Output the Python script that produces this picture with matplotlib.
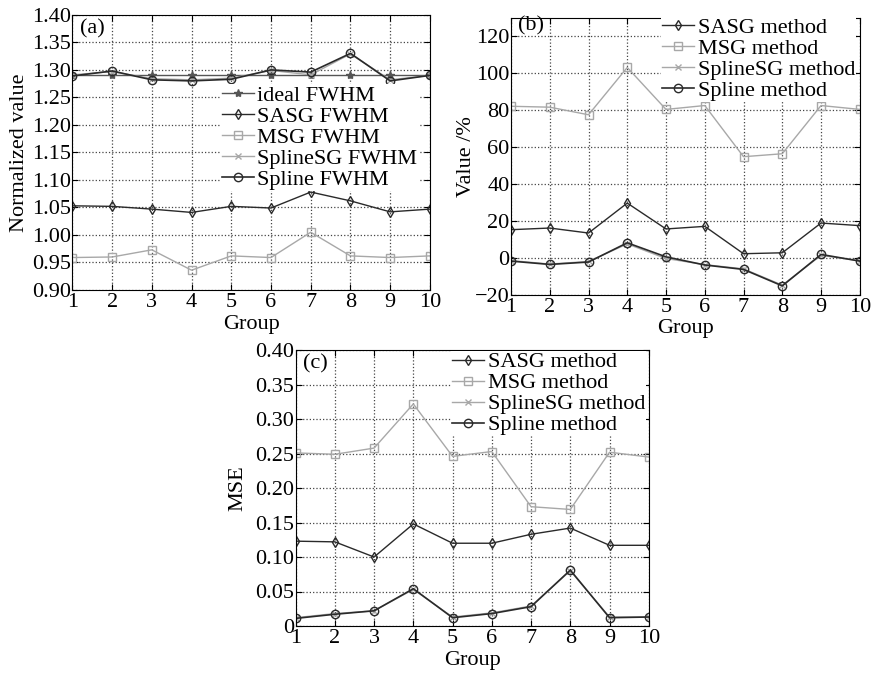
import numpy as np
import matplotlib
matplotlib.use("Agg")
import matplotlib.pyplot as plt

groups = np.arange(1, 11)

# (a) normalized FWHM
ideal_fwhm = [1.29] * 10
sasg_fwhm = [1.053, 1.052, 1.047, 1.041, 1.052, 1.049, 1.078, 1.062, 1.042, 1.047]
msg_fwhm = [0.959, 0.960, 0.973, 0.936, 0.962, 0.959, 1.005, 0.962, 0.959, 0.962]
splinesg_fwhm = [1.291, 1.297, 1.284, 1.282, 1.285, 1.299, 1.291, 1.329, 1.282, 1.290]
spline_fwhm = [1.289, 1.298, 1.282, 1.280, 1.283, 1.300, 1.296, 1.330, 1.280, 1.290]

# (b) value in %
sasg_val = [15.2, 16.1, 13.4, 29.6, 15.6, 17.0, 2.2, 2.7, 18.8, 17.4]
msg_val = [82.0, 81.5, 77.4, 103.0, 80.3, 82.4, 54.7, 56.3, 82.4, 80.3]
splinesg_val = [-1.5, -3.4, -2.0, 7.5, -0.4, -3.7, -6.0, -14.8, 1.3, -1.6]
spline_val = [-1.8, -3.6, -2.3, 8.1, 0.5, -3.9, -6.3, -15.2, 1.8, -1.8]

# (c) MSE
sasg_mse = [0.123, 0.122, 0.100, 0.148, 0.120, 0.120, 0.133, 0.142, 0.117, 0.117]
msg_mse = [0.251, 0.249, 0.258, 0.322, 0.246, 0.253, 0.173, 0.169, 0.252, 0.245]
splinesg_mse = [0.012, 0.018, 0.022, 0.053, 0.013, 0.019, 0.029, 0.080, 0.013, 0.013]
spline_mse = [0.011, 0.017, 0.022, 0.054, 0.012, 0.018, 0.028, 0.081, 0.012, 0.013]

plt.rcParams['font.family'] = ['Liberation Serif']
fs = 16
plt.rcParams['font.size'] = fs

dark = '#2a2a2a'
light = '#a8a8a8'
mid = '#555555'

fig = plt.figure(figsize=(8.72, 6.76), dpi=100)


def style(ax, ylim, yticks, ylabels):
    ax.set_xlim(1, 10)
    ax.set_xticks(groups)
    ax.set_ylim(*ylim)
    ax.set_yticks(yticks)
    ax.set_yticklabels(ylabels)
    ax.tick_params(direction='in', top=True, right=True, length=4, labelsize=fs)
    ax.tick_params(axis='x', pad=2)
    ax.tick_params(axis='y', pad=1)
    ax.grid(True, linestyle=':', color='#444444', linewidth=0.9)
    ax.set_xlabel('Group', fontsize=fs, labelpad=2)
    for s in ax.spines.values():
        s.set_linewidth(0.8)


leg_kw = dict(frameon=True, facecolor='white', edgecolor='none', framealpha=1,
              fancybox=False, fontsize=fs, handlelength=1.45, handletextpad=0.15,
              labelspacing=0.02, borderpad=0.05, borderaxespad=0)

# panel (a)
ax1 = fig.add_axes([0.083, 0.571, 0.410, 0.407])
ax1.plot(groups, ideal_fwhm, '-*', color=mid, lw=1, ms=6, label='ideal FWHM')
ax1.plot(groups, sasg_fwhm, '-d', color=dark, lw=1, ms=5, mfc='none', label='SASG FWHM')
ax1.plot(groups, msg_fwhm, '-s', color=light, lw=1, ms=6, mfc='none', label='MSG FWHM')
ax1.plot(groups, splinesg_fwhm, '-x', color=light, lw=1, ms=4, label='SplineSG FWHM')
ax1.plot(groups, spline_fwhm, '-o', color=dark, lw=1.2, ms=6, mfc='none', label='Spline FWHM')
yt = np.arange(0.90, 1.401, 0.05)
style(ax1, (0.90, 1.40), yt, ['%.2f' % v for v in yt])
ax1.set_ylabel('Normalized value', fontsize=fs, labelpad=2)
ax1.text(0.02, 0.985, '(a)', transform=ax1.transAxes, va='top', fontsize=fs)
ax1.legend(loc='upper left', bbox_to_anchor=(0.415, 0.748), **leg_kw)

# panel (b)
ax2 = fig.add_axes([0.586, 0.564, 0.400, 0.410])
ax2.plot(groups, sasg_val, '-d', color=dark, lw=1, ms=5, mfc='none', label='SASG method')
ax2.plot(groups, msg_val, '-s', color=light, lw=1, ms=6, mfc='none', label='MSG method')
ax2.plot(groups, splinesg_val, '-x', color=light, lw=1, ms=4, label='SplineSG method')
ax2.plot(groups, spline_val, '-o', color=dark, lw=1.2, ms=6, mfc='none', label='Spline method')
yt = np.arange(-20, 121, 20)
style(ax2, (-20, 130), yt, ['\u221220' if v < 0 else '%d' % v for v in yt])
ax2.set_ylabel('Value /%', fontsize=fs, labelpad=-1)
ax2.text(0.02, 1.005, '(b)', transform=ax2.transAxes, va='top', fontsize=fs)
ax2.legend(loc='upper left', bbox_to_anchor=(0.43, 1.005), **leg_kw)

# panel (c)
ax3 = fig.add_axes([0.339, 0.074, 0.405, 0.408])
ax3.plot(groups, sasg_mse, '-d', color=dark, lw=1, ms=5, mfc='none', label='SASG method')
ax3.plot(groups, msg_mse, '-s', color=light, lw=1, ms=6, mfc='none', label='MSG method')
ax3.plot(groups, splinesg_mse, '-x', color=light, lw=1, ms=4, label='SplineSG method')
ax3.plot(groups, spline_mse, '-o', color=dark, lw=1.2, ms=6, mfc='none', label='Spline method')
yt = np.arange(0, 0.401, 0.05)
style(ax3, (0, 0.40), yt, ['0'] + ['%.2f' % v for v in yt[1:]])
ax3.set_ylabel('MSE', fontsize=fs, labelpad=6)
ax3.text(0.02, 0.985, '(c)', transform=ax3.transAxes, va='top', fontsize=fs)
ax3.legend(loc='upper left', bbox_to_anchor=(0.44, 0.998), **leg_kw)

fig.savefig('out.png', dpi=100)
